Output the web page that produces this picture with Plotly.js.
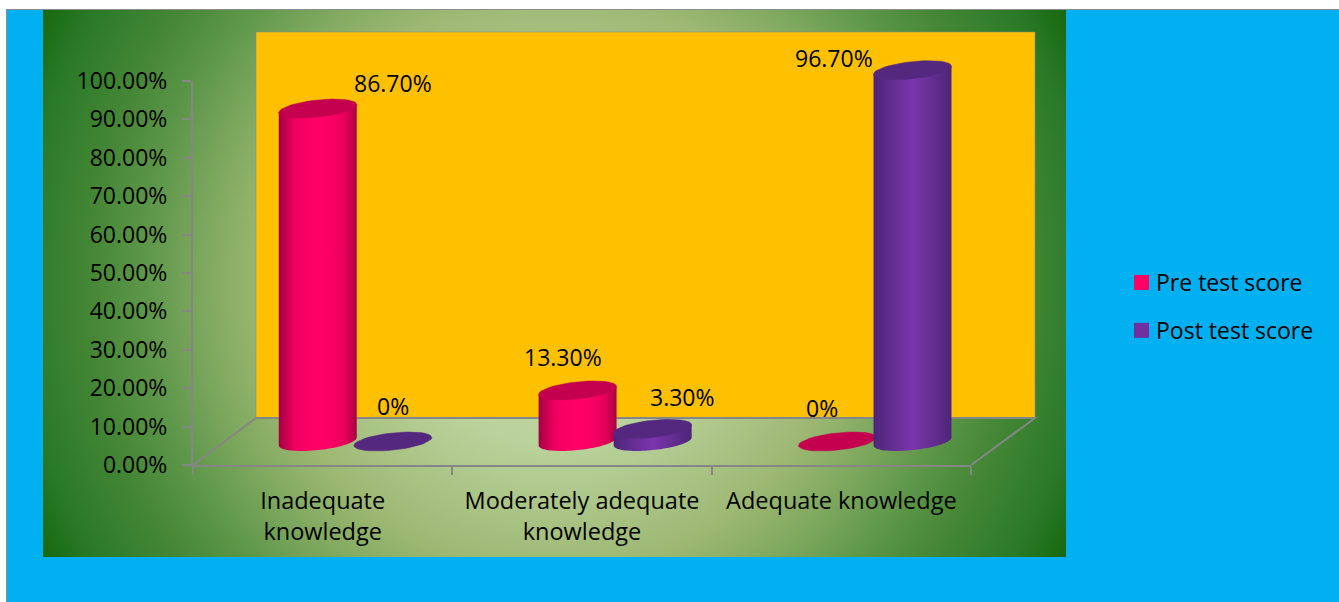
<!DOCTYPE html>
<html>
<head>
<meta charset="utf-8">
<script src="https://cdn.plot.ly/plotly-3.0.1.min.js"></script>
<style>
html,body{margin:0;padding:0;background:#fff;width:1339px;height:602px;overflow:hidden}
#panel{position:absolute;left:6px;top:9px;right:0;bottom:0;background:#00B0F0;border-left:1px solid #8c8c8c;border-top:1px solid #8c8c8c}
#plate{position:absolute;left:43px;top:10px;width:1023px;height:547px;background:radial-gradient(circle farthest-corner at 50% 50%,#c8dcb0 0%,#b9d29b 28%,#9db873 50%,#80a960 60%,#5f984a 70%,#458736 80%,#2a7a28 92%,#17680f 100%)}
#chart{position:absolute;left:0;top:0;width:1339px;height:602px}
</style>
</head>
<body>
<div id="panel"></div>
<div id="plate"></div>
<div id="chart"></div>
<script>
var categories = ["Inadequate<br>knowledge", "Moderately adequate<br>knowledge", "Adequate knowledge"];
var preTest = [0.867, 0.133, 0];
var postTest = [0, 0.033, 0.967];
var preLabels = ["86.70%", "13.30%", "0%"];
var postLabels = ["0%", "3.30%", "96.70%"];
var seriesNames = ["Pre test score", "Post test score"];

var W = 1339, H = 602;
var FONT = "'Open Sans', sans-serif", FSCAT = 23.5, FSNUM = 23, FSLEG = 23;
var frame = {l:193, r:971, y0:465, y1:81};      // front axes frame, px
var wall = {dx:63, dy:47, top:32};              // depth of the box
var barBox = {l:225.5, r:1005, dy:23.5};        // cylinders stand mid-depth
var capA = 0.15, barW = 0.30;
var capBpx = 8.6, capKpx = 4;
var pxPerUnit = frame.y0 - frame.y1;
var capB = capBpx/pxPerUnit, capK = capKpx/pxPerUnit;
var preOffset = -0.295, postOffset = -0.006;
var preShift = [[75,26],[-15,33],[-15,34]];
var postShift = [[0,36],[30,32],[-79,12]];
var footRoom = 0.1;   // hidden value axes start below zero so the cylinder feet have room

function fx(px){return px/W;}
function fy(px){return 1-px/H;}

function capTrace(i, value, offset, color, xa, ya){
  var xs=[], ys=[], cx=i+offset+barW/2;
  for(var n=0;n<=48;n++){
    var t=2*Math.PI*n/48;
    xs.push(cx+capA*Math.cos(t));
    ys.push(value+capB*Math.sin(t)+capK*Math.cos(t));
  }
  return {type:'scatter',mode:'lines',x:xs,y:ys,fill:'toself',fillcolor:color,
    line:{color:color,width:0.5},xaxis:xa,yaxis:ya,showlegend:false,hoverinfo:'skip',cliponaxis:false};
}

var idx=[0,1,2];
var traces=[
  {type:'scatter',x:categories,y:[0,0,0],mode:'none',xaxis:'x',yaxis:'y',showlegend:false,hoverinfo:'skip'},
  {type:'bar',name:seriesNames[0],x:idx,y:preTest,width:barW,offset:preOffset,marker:{color:'#FF0066'},
    xaxis:'x2',yaxis:'y2',legendgroup:'a',cliponaxis:false,hoverinfo:'skip'}
];
idx.forEach(function(i){traces.push(capTrace(i,preTest[i],preOffset,'#C4004E','x2','y2'));});
traces.push({type:'bar',name:seriesNames[1],x:idx,y:postTest,width:barW,offset:postOffset,marker:{color:'#7030A0'},
    xaxis:'x3',yaxis:'y3',legendgroup:'b',cliponaxis:false,hoverinfo:'skip'});
idx.forEach(function(i){traces.push(capTrace(i,postTest[i],postOffset,'#55287F','x3','y3'));});

var annotations=[];
idx.forEach(function(i){
  annotations.push({xref:'x2',yref:'y2',x:i+preOffset+barW/2,y:preTest[i],text:preLabels[i],showarrow:false,
    xshift:preShift[i][0],yshift:preShift[i][1],font:{family:FONT,size:FSNUM,color:'#000'}});
  annotations.push({xref:'x3',yref:'y3',x:i+postOffset+barW/2,y:postTest[i],text:postLabels[i],showarrow:false,
    xshift:postShift[i][0],yshift:postShift[i][1],font:{family:FONT,size:FSNUM,color:'#000'}});
});

var grey='#868686';
var hiddenX={visible:false,range:[-0.5,2.5],fixedrange:true,domain:[fx(barBox.l),fx(barBox.r)]};
var hiddenY={visible:false,range:[-footRoom,1],fixedrange:true,
  domain:[fy(frame.y0-barBox.dy+footRoom*pxPerUnit),fy(frame.y1-barBox.dy)]};
function copy(o,extra){return Object.assign({},o,extra);}

var shapes=[
  {type:'rect',xref:'paper',yref:'paper',x0:fx(frame.l+wall.dx),x1:fx(frame.r+wall.dx+1),y0:fy(frame.y0-wall.dy),y1:fy(wall.top),
   fillcolor:'#FFC000',line:{color:'rgba(134,134,134,0.55)',width:1},layer:'below'},
  {type:'path',xref:'paper',yref:'paper',layer:'below',line:{color:grey,width:2},
   path:'M'+fx(frame.l)+','+fy(frame.y0)+'L'+fx(frame.l+wall.dx)+','+fy(frame.y0-wall.dy)+'L'+fx(frame.r+wall.dx+1)+','+fy(frame.y0-wall.dy)+'L'+fx(frame.r)+','+fy(frame.y0)}
];

var layout={
  width:W,height:H,margin:{l:0,r:0,t:0,b:0},
  paper_bgcolor:'rgba(0,0,0,0)',plot_bgcolor:'rgba(0,0,0,0)',
  hovermode:false,barmode:'overlay',
  font:{family:FONT,size:FSLEG,color:'#000'},
  xaxis:{type:'category',categoryorder:'array',categoryarray:categories,range:[-0.5,2.5],fixedrange:true,
    domain:[fx(frame.l),fx(frame.r)],showline:true,linecolor:grey,linewidth:2,ticks:'outside',ticklen:8,tickwidth:2,tickcolor:grey,
    tickson:'boundaries',showgrid:false,zeroline:false,ticklabelstandoff:14,tickfont:{family:FONT,size:FSCAT,color:'#000'},automargin:false},
  yaxis:{range:[0,1],dtick:0.1,tick0:0,tickformat:'.2%',fixedrange:true,
    domain:[fy(frame.y0),fy(frame.y1)],showline:true,linecolor:grey,linewidth:2,ticks:'outside',ticklen:9,tickwidth:2,tickcolor:grey,
    showgrid:false,zeroline:false,ticklabelstandoff:10,tickfont:{family:FONT,size:FSNUM,color:'#000'},automargin:false},
  xaxis2:copy(hiddenX,{anchor:'y2'}),yaxis2:copy(hiddenY,{anchor:'x2'}),
  xaxis3:copy(hiddenX,{anchor:'y3'}),yaxis3:copy(hiddenY,{anchor:'x3'}),
  legend:{x:fx(1116),y:fy(261),xanchor:'left',yanchor:'top',bgcolor:'rgba(0,0,0,0)',tracegroupgap:15,
    font:{family:FONT,size:FSLEG,color:'#000'},itemclick:false,itemdoubleclick:false},
  shapes:shapes,annotations:annotations
};

function addGradient(svg,id,stops){
  var ns='http://www.w3.org/2000/svg';
  var defs=svg.querySelector('defs')||svg.insertBefore(document.createElementNS(ns,'defs'),svg.firstChild);
  var g=document.createElementNS(ns,'linearGradient');
  g.setAttribute('id',id);g.setAttribute('x1','0');g.setAttribute('x2','1');g.setAttribute('y1','0');g.setAttribute('y2','0');
  stops.forEach(function(s){
    var st=document.createElementNS(ns,'stop');
    st.setAttribute('offset',s[0]);st.setAttribute('stop-color',s[1]);g.appendChild(st);
  });
  defs.appendChild(g);
}

// Turn the bars Plotly placed into cylinders: same box, rounded foot, shaded side.
function cylinderise(path,gradId){
  var b=path.getBBox();
  if(b.width<1||b.height<0.5) return;
  var a=b.width/2,cx=b.x+a,top=b.y,bot=b.y+b.height;
  var pts=[[b.x,top+capKpx],[b.x,bot+capKpx]];
  for(var n=1;n<48;n++){
    var t=Math.PI-Math.PI*n/48;
    pts.push([cx+a*Math.cos(t),bot+capBpx*Math.sin(t)-capKpx*Math.cos(t)]);
  }
  pts.push([b.x+b.width,bot-capKpx],[b.x+b.width,top-capKpx]);
  path.setAttribute('d','M'+pts.map(function(p){return p[0].toFixed(2)+','+p[1].toFixed(2);}).join('L')+'Z');
  path.style.setProperty('fill','url(#'+gradId+')');
}

var gd=document.getElementById('chart');
Plotly.newPlot(gd,traces,layout,{displayModeBar:false}).then(function(){
  var svg=gd.querySelector('svg.main-svg');
  addGradient(svg,'gradPink',[[0,'#a30041'],[0.2,'#ee005f'],[0.42,'#ff0066'],[0.6,'#ff0066'],[0.85,'#e6005b'],[1,'#a8003f']]);
  addGradient(svg,'gradPurple',[[0,'#4d2578'],[0.25,'#652e93'],[0.5,'#7b35ae'],[0.75,'#652e93'],[1,'#4d2578']]);
  var groups=gd.querySelectorAll('.barlayer .trace');
  var ids=['gradPink','gradPurple'];
  groups.forEach(function(g,k){
    g.querySelectorAll('.point path').forEach(function(p){cylinderise(p,ids[k]);});
  });
  // Category labels have a wider line pitch than the default
  gd.querySelectorAll('.xtick text tspan').forEach(function(t){
    var dy=t.getAttribute('dy');
    if(dy&&dy.indexOf('em')>0&&parseFloat(dy)>0) t.setAttribute('dy','31px');
  });
  // Legend keys: 15px squares next to the text
  gd.querySelectorAll('.legend .legendpoints path').forEach(function(p){
    p.setAttribute('d','M7.5,7.5H-7.5V-7.5H7.5Z');
    p.setAttribute('transform','translate(25.5,0)');
  });
});
</script>
</body>
</html>
